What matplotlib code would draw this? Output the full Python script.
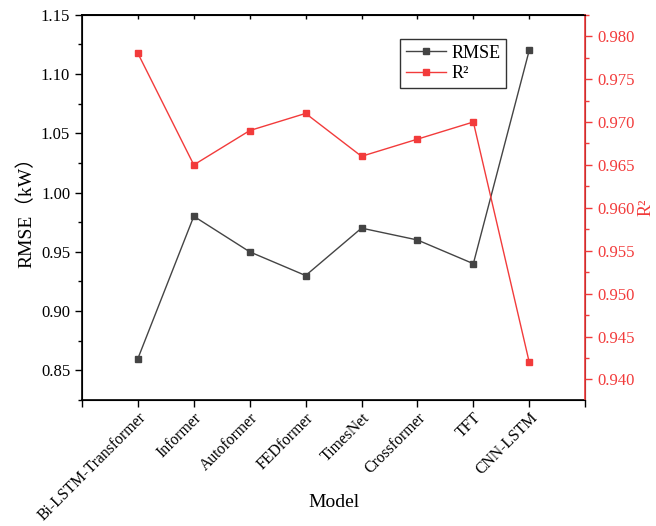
import matplotlib
matplotlib.use("Agg")
import matplotlib.pyplot as plt
from matplotlib.ticker import MultipleLocator, FixedLocator, FormatStrFormatter
from matplotlib.lines import Line2D

models = ["Bi-LSTM-Transformer", "Informer", "Autoformer", "FEDformer",
          "TimesNet", "Crossformer", "TFT", "CNN-LSTM"]
rmse = [0.86, 0.98, 0.95, 0.93, 0.97, 0.96, 0.94, 1.12]
r2 = [0.978, 0.965, 0.969, 0.971, 0.966, 0.968, 0.970, 0.942]

plt.rcParams['font.family'] = ['Liberation Serif', 'Noto Sans CJK SC', 'DejaVu Sans']

gray = '#444444'
red = '#F23B3B'

fig = plt.figure(figsize=(6.56, 5.26), dpi=100)
ax = fig.add_axes([0.125, 0.2395, 0.767, 0.7325])
x = list(range(1, len(models) + 1))
ax.plot(x, rmse, color=gray, marker='s', markersize=5, linewidth=1, label='RMSE')
ax.set_xlim(0, 9)
ax.set_ylim(0.825, 1.15)
ax.yaxis.set_major_locator(MultipleLocator(0.05))
ax.yaxis.set_minor_locator(MultipleLocator(0.025))
ax.xaxis.set_major_locator(FixedLocator(list(range(0, 10))))
ax.set_xticklabels([""] + models + [""], rotation=45, ha='right', rotation_mode='anchor', fontsize=11.3)
ax.tick_params(axis='y', direction='out', length=5, width=1, labelsize=12)
ax.tick_params(axis='x', direction='out', length=5, width=1, pad=2)
ax.tick_params(axis='y', which='minor', direction='out', length=3, width=1)
ax.yaxis.set_major_formatter(FormatStrFormatter('%.2f'))
ax.set_xlabel("Model", fontsize=14)
ax.xaxis.set_label_coords(0.5, -0.245)
ax.set_ylabel("RMSE（kW）", fontsize=14)

top = ax.secondary_xaxis('top')
top.set_xticks(x)
top.tick_params(direction='in', length=3, width=1, labeltop=False)
top.spines['top'].set_linewidth(1.2)

ax2 = ax.twinx()
ax2.plot(x, r2, color=red, marker='s', markersize=5, linewidth=1, label='R²')
ax2.set_ylim(0.9376, 0.9825)
ax2.yaxis.set_major_locator(MultipleLocator(0.005))
ax2.yaxis.set_minor_locator(MultipleLocator(0.0025))
ax2.yaxis.set_major_formatter(FormatStrFormatter('%.3f'))
ax2.tick_params(axis='y', which='both', colors=red, direction='out', labelsize=12)
ax2.tick_params(axis='y', which='major', length=5, width=1)
ax2.tick_params(axis='y', which='minor', length=3, width=1)
ax2.spines['right'].set_color(red)
ax2.spines['right'].set_linewidth(1.2)
ax2.set_ylabel("R²", color=red, fontsize=13, labelpad=2)

for sp in ['left', 'bottom', 'top']:
    ax.spines[sp].set_linewidth(1.2)

handles = [Line2D([], [], color=gray, marker='s', markersize=5, linewidth=1),
           Line2D([], [], color=red, marker='s', markersize=5, linewidth=1)]
ax2.legend(handles, ['RMSE', 'R²'], loc='upper left', bbox_to_anchor=(0.615, 0.96),
           fontsize=13, frameon=True, fancybox=False, edgecolor='black',
           handlelength=2.2, borderpad=0.3, labelspacing=0.2, handletextpad=0.3)
ax2.get_legend().get_frame().set_linewidth(1)

fig.savefig("out.png", dpi=100)
